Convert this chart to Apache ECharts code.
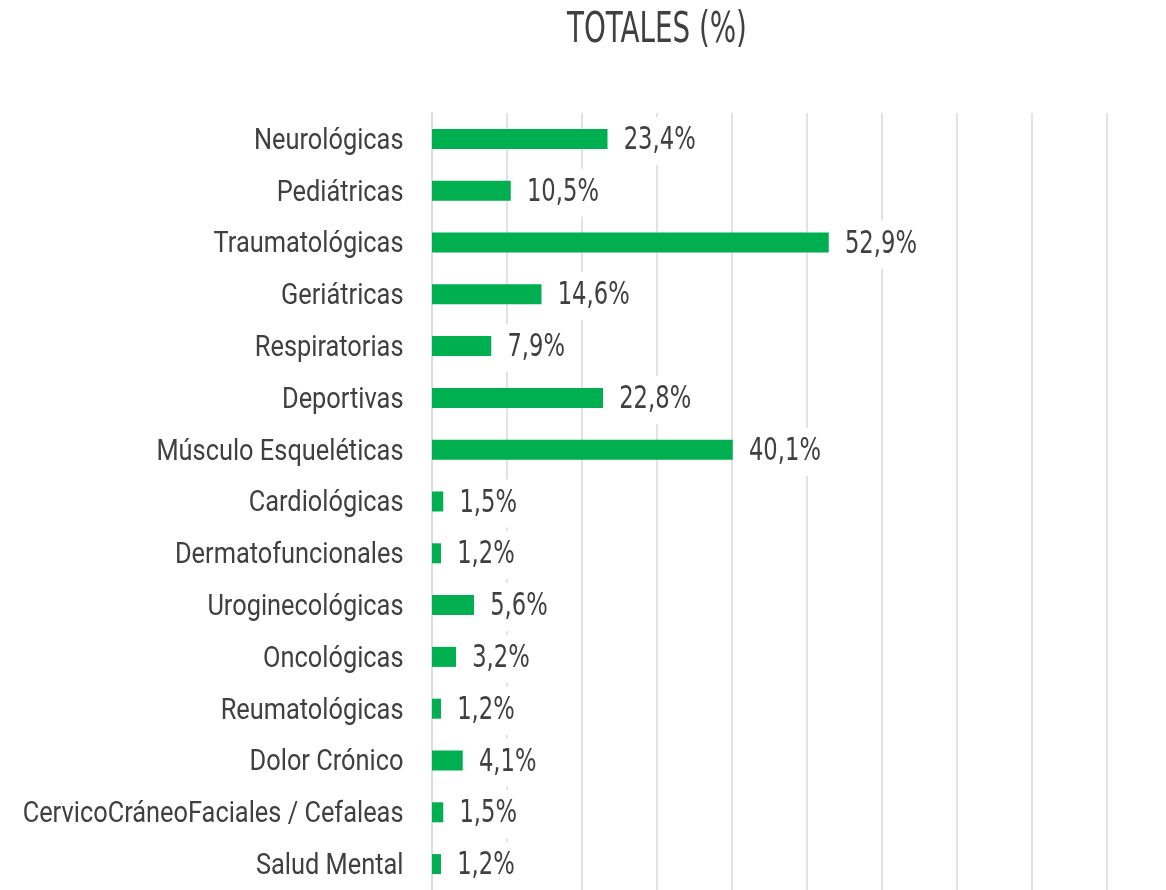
<!DOCTYPE html>
<html>
<head>
<meta charset="utf-8">
<script src="https://cdn.jsdelivr.net/npm/echarts@6/dist/echarts.min.js"></script>
<style>html,body{margin:0;padding:0;background:#fff}#c{width:1166px;height:890px}</style>
</head>
<body>
<div id="c"></div>
<script>
const chartTitle = 'TOTALES (%)';
const categories = ['Neurológicas','Pediátricas','Traumatológicas','Geriátricas','Respiratorias','Deportivas','Músculo Esqueléticas','Cardiológicas','Dermatofuncionales','Uroginecológicas','Oncológicas','Reumatológicas','Dolor Crónico','CervicoCráneoFaciales / Cefaleas','Salud Mental'];
const values = [23.4,10.5,52.9,14.6,7.9,22.8,40.1,1.5,1.2,5.6,3.2,1.2,4.1,1.5,1.2];

const condFont = '"DejaVu Sans Condensed","DejaVu Sans",sans-serif';
const labelData = values.map((v, i) => [v, i]);
const catData = categories.map((c, i) => [0, i]);
const fmt = v => v.toFixed(1).replace('.', ',') + '%';

const chart = echarts.init(document.getElementById('c'));
chart.setOption({
  animation: false,
  backgroundColor: '#fff',
  graphic: [{
    type: 'text', x: 657, y: 31, scaleX: 0.735, z: 100,
    style: {text: chartTitle, fontFamily: condFont, fontSize: 42, fill: '#404040', align: 'center', verticalAlign: 'middle'}
  }],
  grid: {left: 432, top: 113, width: 675, height: 780, containLabel: false},
  xAxis: {
    type: 'value', min: 0, max: 90, interval: 10,
    axisLabel: {show: false}, axisLine: {show: false}, axisTick: {show: false},
    splitLine: {show: true, lineStyle: {color: '#d9d9d9', width: 1.5}}
  },
  yAxis: {
    type: 'category', data: categories, inverse: true,
    axisLine: {show: true, lineStyle: {color: '#d9d9d9', width: 1.5}},
    axisTick: {show: false},
    axisLabel: {show: false}
  },
  series: [{
    type: 'bar', data: values, barWidth: 20,
    itemStyle: {color: '#00b050'}
  }, {
    type: 'custom', data: labelData, z: 5,
    encode: {x: 0, y: 1},
    renderItem: function (params, api) {
      const pt = api.coord([api.value(0), api.value(1)]);
      return {
        type: 'text', x: pt[0] + 13, y: pt[1] + 2, scaleX: 0.8,
        style: {
          text: fmt(api.value(0)), fontFamily: condFont, fontSize: 31.5, fill: '#404040',
          align: 'left', verticalAlign: 'middle', backgroundColor: '#fff', padding: [8, 4]
        }
      };
    }
  }, {
    type: 'custom', data: catData, z: 5, clip: false,
    encode: {x: 0, y: 1},
    renderItem: function (params, api) {
      const pt = api.coord([0, api.value(1)]);
      return {
        type: 'text', x: pt[0] - 28.5, y: pt[1] + 2.5, scaleX: 0.86,
        style: {
          text: categories[params.dataIndex], fontFamily: 'Roboto, sans-serif', fontSize: 29.5, fill: '#404040',
          align: 'right', verticalAlign: 'middle'
        }
      };
    }
  }]
});
</script>
</body>
</html>
